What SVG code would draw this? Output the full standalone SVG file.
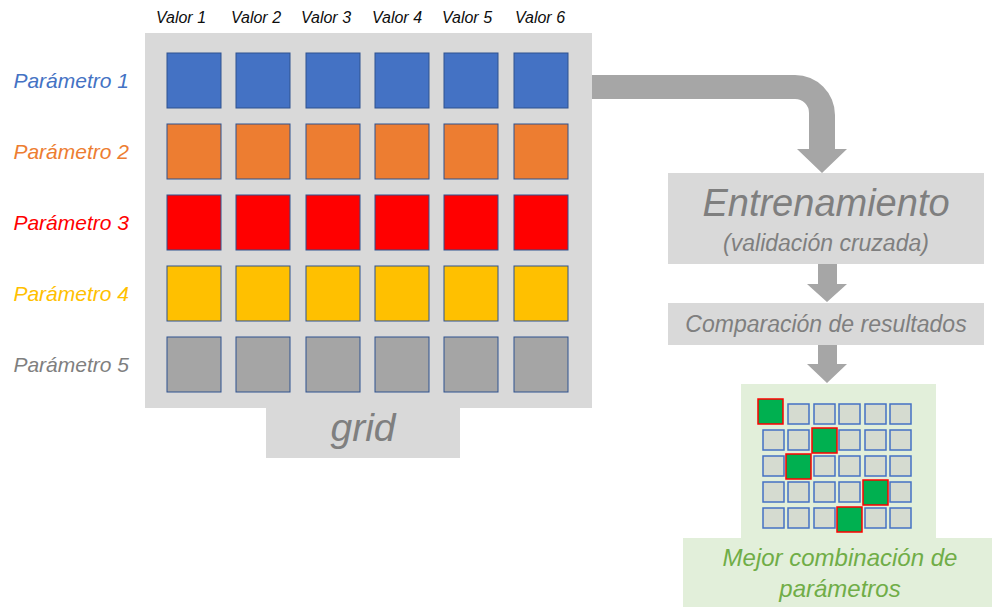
<svg xmlns="http://www.w3.org/2000/svg" width="992" height="607" viewBox="0 0 992 607">
<style>
text{font-family:"Liberation Sans",Arial,sans-serif;font-style:italic}
.col{font-size:16px;fill:#0d0d0d;text-anchor:middle}
.row{font-size:21px;text-anchor:end}
.sq{stroke:#2F528F;stroke-width:1}
.b{fill:#4472C4}.o{fill:#ED7D31}.r{fill:#FF0000}.y{fill:#FFC000}.g{fill:#A5A5A5}
.panel{fill:#D9D9D9}
.arrow{fill:#A6A6A6}
.gt{fill:#7F7F7F;text-anchor:middle}
.cell{fill:#D5DBD0;stroke:#4472C4;stroke-width:1.5}
.win{fill:#00B050;stroke:#FF0000;stroke-width:1.5}
.green{fill:#E2EFDA}
.grt{fill:#70AD47;font-size:24px;text-anchor:middle}
</style>
<defs>
<rect id="s" width="54" height="55" class="sq"/>
<rect id="c" width="21" height="20" class="cell"/>
<rect id="w" width="25" height="25" class="win"/>
</defs>

<g id="grid-panel">
<rect class="panel" x="145" y="33" width="447" height="375"/>
<rect class="panel" x="266" y="407" width="194" height="51"/>
<text class="gt" x="363" y="441" font-size="39">grid</text>
</g>

<g id="column-labels">
<text class="col" x="181" y="23">Valor 1</text>
<text class="col" x="256" y="23">Valor 2</text>
<text class="col" x="326" y="23">Valor 3</text>
<text class="col" x="397" y="23">Valor 4</text>
<text class="col" x="467" y="23">Valor 5</text>
<text class="col" x="540" y="23">Valor 6</text>
</g>

<g id="param1">
<text class="row" x="129" y="88" fill="#4472C4">Parámetro 1</text>
<use href="#s" class="b" x="167" y="53"/><use href="#s" class="b" x="236" y="53"/><use href="#s" class="b" x="306" y="53"/><use href="#s" class="b" x="375" y="53"/><use href="#s" class="b" x="444" y="53"/><use href="#s" class="b" x="514" y="53"/>
</g>
<g id="param2">
<text class="row" x="129" y="159" fill="#ED7D31">Parámetro 2</text>
<use href="#s" class="o" x="167" y="124"/><use href="#s" class="o" x="236" y="124"/><use href="#s" class="o" x="306" y="124"/><use href="#s" class="o" x="375" y="124"/><use href="#s" class="o" x="444" y="124"/><use href="#s" class="o" x="514" y="124"/>
</g>
<g id="param3">
<text class="row" x="129" y="230" fill="#FF0000">Parámetro 3</text>
<use href="#s" class="r" x="167" y="195"/><use href="#s" class="r" x="236" y="195"/><use href="#s" class="r" x="306" y="195"/><use href="#s" class="r" x="375" y="195"/><use href="#s" class="r" x="444" y="195"/><use href="#s" class="r" x="514" y="195"/>
</g>
<g id="param4">
<text class="row" x="129" y="301" fill="#FFC000">Parámetro 4</text>
<use href="#s" class="y" x="167" y="266"/><use href="#s" class="y" x="236" y="266"/><use href="#s" class="y" x="306" y="266"/><use href="#s" class="y" x="375" y="266"/><use href="#s" class="y" x="444" y="266"/><use href="#s" class="y" x="514" y="266"/>
</g>
<g id="param5">
<text class="row" x="129" y="372" fill="#7F7F7F">Parámetro 5</text>
<use href="#s" class="g" x="167" y="337"/><use href="#s" class="g" x="236" y="337"/><use href="#s" class="g" x="306" y="337"/><use href="#s" class="g" x="375" y="337"/><use href="#s" class="g" x="444" y="337"/><use href="#s" class="g" x="514" y="337"/>
</g>

<g id="entrenamiento">
<rect class="panel" x="668" y="173" width="316" height="91"/>
<text class="gt" x="826" y="216" font-size="38">Entrenamiento</text>
<text class="gt" x="826" y="251" font-size="23">(validación cruzada)</text>
</g>

<g id="comparacion">
<rect class="panel" x="668" y="303" width="316" height="42"/>
<text class="gt" x="826" y="332" font-size="23">Comparación de resultados</text>
</g>

<g id="mejor">
<rect class="green" x="741" y="384" width="195" height="155"/>
<rect class="green" x="683" y="538" width="309" height="69"/>
<use href="#c" x="788" y="404"/><use href="#c" x="814" y="404"/><use href="#c" x="839" y="404"/><use href="#c" x="865" y="404"/><use href="#c" x="890" y="404"/>
<use href="#c" x="763" y="430"/><use href="#c" x="788" y="430"/><use href="#c" x="839" y="430"/><use href="#c" x="865" y="430"/><use href="#c" x="890" y="430"/>
<use href="#c" x="763" y="456"/><use href="#c" x="814" y="456"/><use href="#c" x="839" y="456"/><use href="#c" x="865" y="456"/><use href="#c" x="890" y="456"/>
<use href="#c" x="763" y="482"/><use href="#c" x="788" y="482"/><use href="#c" x="814" y="482"/><use href="#c" x="839" y="482"/><use href="#c" x="890" y="482"/>
<use href="#c" x="763" y="508"/><use href="#c" x="788" y="508"/><use href="#c" x="814" y="508"/><use href="#c" x="865" y="508"/><use href="#c" x="890" y="508"/>
<use href="#w" x="758" y="399"/>
<use href="#w" x="812" y="428"/>
<use href="#w" x="786" y="454"/>
<use href="#w" x="863" y="480"/>
<use href="#w" x="837" y="507"/>
<text class="grt" x="840" y="566">Mejor combinación de</text>
<text class="grt" x="840" y="597">parámetros</text>
</g>

<g id="connectors">
<path class="arrow" d="M592 75 H795 A40 40 0 0 1 835 115 V149 H847 L822 173 L797 149 H809 V113 A14 14 0 0 0 795 99 H592 Z"/>
<path class="arrow" d="M818 264 H837 V284 H847 L827 302 L807 284 H818 Z"/>
<path class="arrow" d="M818 345 H837 V364 H847 L827 383 L807 364 H818 Z"/>
</g>
</svg>
